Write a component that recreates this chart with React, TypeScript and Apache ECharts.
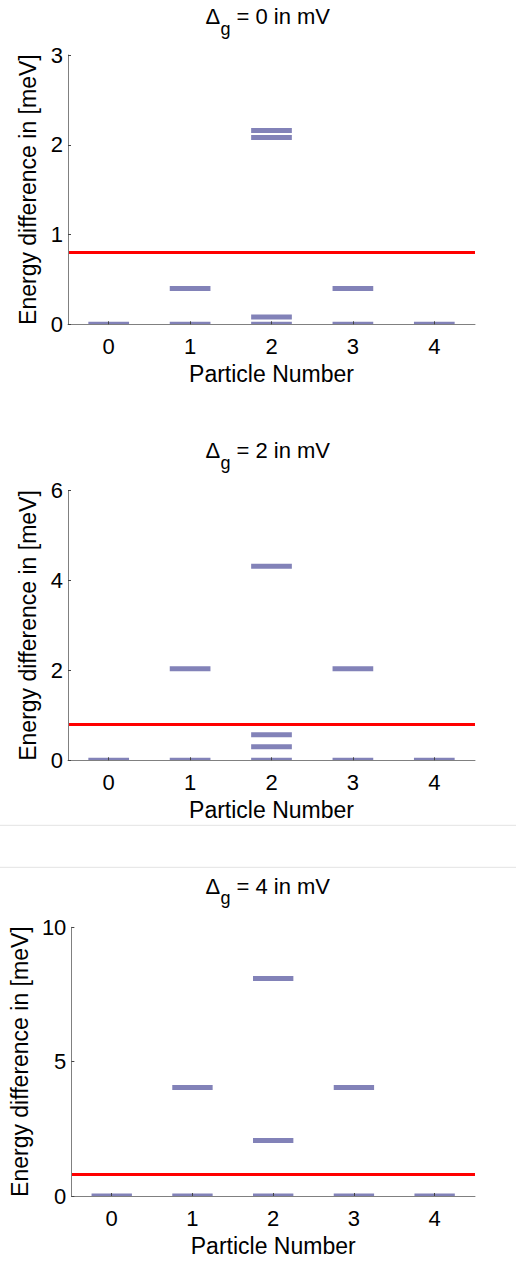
import React, { useEffect, useRef } from "react";
import * as echarts from "echarts";

// ---- data ----
const particleNumbers = [0, 1, 2, 3, 4];
const gapValues = [0, 2, 4];
const levelsGap0 = [[0], [0, 0.4], [0, 0.08, 2.08, 2.16], [0, 0.4], [0]];
const levelsGap2 = [[0], [0, 2.04], [0, 0.3, 0.57, 4.32], [0, 2.04], [0]];
const levelsGap4 = [[0], [0, 4.04], [0, 2.07, 8.09], [0, 4.04], [0]];
const thresholds = [0.8, 0.8, 0.8];
const yMaxes = [3, 6, 10];
const yIntervals = [1, 2, 5];
const xAxisName = "Particle Number";
const yAxisName = "Energy difference in [meV]";

// ---- layout / style ----
const FONT = "'Liberation Sans', Arial, Helvetica, sans-serif";
const BAR_COLOR = "#8282b8";
const AXIS_COLOR = "#808080";
const GRID_LEFT = 68;
const GRID_WIDTH = 407;
const GRID_TOPS = [55, 490.7, 927.3];
const GRID_HEIGHTS = [269.3, 269.6, 268.7];
const TITLE_Y = [16.7, 450.5, 886.3];
const SEPARATORS = [825.3, 867.3];

export default function App() {
  const ref = useRef<HTMLDivElement>(null);
  useEffect(() => {
    document.body.style.margin = "0";
    const chart = echarts.init(ref.current!, null, { renderer: "svg" });
    const allLevels = [levelsGap0, levelsGap2, levelsGap4];

    const grids = GRID_TOPS.map((top, i) => ({
      left: GRID_LEFT,
      width: GRID_WIDTH,
      top,
      height: GRID_HEIGHTS[i],
      containLabel: false,
    }));

    const xAxes = GRID_TOPS.map((_, i) => ({
      type: "value",
      gridIndex: i,
      min: -0.5,
      max: 4.5,
      z: 10,
      name: xAxisName,
      nameLocation: "middle",
      nameGap: 38,
      nameTextStyle: { fontFamily: FONT, fontSize: 23, color: "#000" },
      axisLine: { show: true, onZero: false, lineStyle: { color: AXIS_COLOR, width: 1 } },
      axisTick: {
        show: true,
        inside: true,
        length: 3,
        customValues: particleNumbers,
        lineStyle: { color: "#444" },
      },
      axisLabel: {
        customValues: particleNumbers,
        fontFamily: FONT,
        fontSize: 22,
        color: "#000",
        margin: 11,
      },
      splitLine: { show: false },
    }));

    const yAxes = GRID_TOPS.map((_, i) => ({
      type: "value",
      gridIndex: i,
      min: 0,
      max: yMaxes[i],
      interval: yIntervals[i],
      z: 10,
      name: yAxisName,
      nameLocation: "middle",
      nameGap: 27,
      nameTextStyle: { fontFamily: FONT, fontSize: 23, color: "#000" },
      axisLine: { show: true, onZero: false, lineStyle: { color: AXIS_COLOR, width: 1 } },
      axisTick: { show: true, inside: true, length: 3, lineStyle: { color: "#444" } },
      axisLabel: { fontFamily: FONT, fontSize: 22, color: "#000", margin: 5 },
      splitLine: { show: false },
    }));

    const series = allLevels.map((levels, i) => {
      const data: number[][] = [];
      levels.forEach((vals, k) => {
        vals.forEach((v) => data.push([particleNumbers[k], v]));
      });
      return {
        type: "custom",
        xAxisIndex: i,
        yAxisIndex: i,
        data,
        silent: true,
        renderItem: (params: any, api: any) => {
          const x = api.value(0);
          const y = api.value(1);
          const a = api.coord([x - 0.25, y]);
          const b = api.coord([x + 0.25, y]);
          const cs = params.coordSys;
          const shape = echarts.graphic.clipRectByRect(
            { x: a[0], y: a[1] - 2.5, width: b[0] - a[0], height: 5 },
            { x: cs.x, y: cs.y, width: cs.width, height: cs.height }
          );
          if (!shape) return null;
          return { type: "rect", shape, style: { fill: BAR_COLOR } };
        },
        markLine: {
          silent: true,
          symbol: "none",
          label: { show: false },
          lineStyle: { color: "#ff0000", width: 3, type: "solid" },
          data: [{ yAxis: thresholds[i] }],
        },
      };
    });

    const center = GRID_LEFT + GRID_WIDTH / 2;
    const titleGraphics: any[] = [];
    gapValues.forEach((g, i) => {
      const ty = TITLE_Y[i];
      titleGraphics.push({
        type: "text",
        x: center - 66,
        y: ty,
        style: {
          text: "\u0394",
          font: `22px ${FONT}`,
          fill: "#000",
          textAlign: "left",
          textVerticalAlign: "middle",
        },
      });
      titleGraphics.push({
        type: "text",
        x: center - 51,
        y: ty + 12,
        style: {
          text: "g",
          font: `18px ${FONT}`,
          fill: "#000",
          textAlign: "left",
          textVerticalAlign: "middle",
        },
      });
      titleGraphics.push({
        type: "text",
        x: center - 35,
        y: ty,
        style: {
          text: `= ${g} in mV`,
          font: `22px ${FONT}`,
          fill: "#000",
          textAlign: "left",
          textVerticalAlign: "middle",
        },
      });
    });
    SEPARATORS.forEach((sy) => {
      titleGraphics.push({
        type: "line",
        shape: { x1: 0, y1: sy, x2: 516, y2: sy },
        style: { stroke: "#e3e3e3", lineWidth: 1 },
      });
    });

    chart.setOption({
      animation: false,
      backgroundColor: "#fff",
      grid: grids,
      xAxis: xAxes,
      yAxis: yAxes,
      series,
      graphic: titleGraphics,
    });
    return () => chart.dispose();
  }, []);
  return <div ref={ref} style={{ width: 516, height: 1263 }} />;
}
